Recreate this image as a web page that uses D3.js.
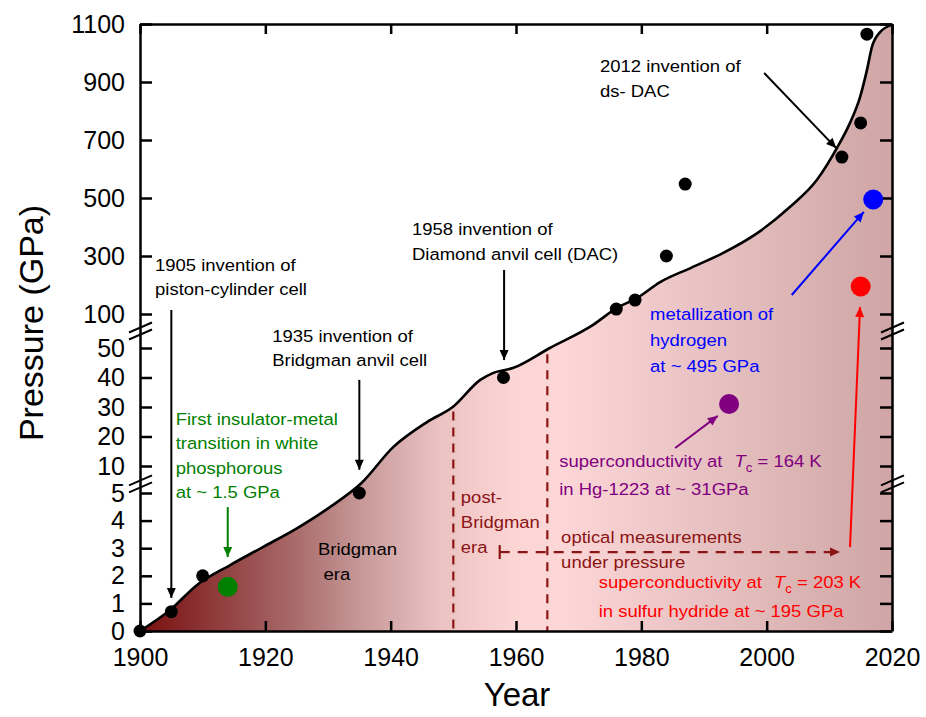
<!DOCTYPE html>
<html>
<head>
<meta charset="utf-8">
<script src="https://cdn.jsdelivr.net/npm/d3@7"></script>
<style>
  body { margin: 0; background: #fff; }
  text { font-family: "Liberation Sans", Arial, sans-serif; }
</style>
</head>
<body>
<svg width="926" height="717"></svg>
<script>
// axis values
var xTicks = [1900, 1920, 1940, 1960, 1980, 2000, 2020];
var yTicks = [0, 1, 2, 3, 4, 5, 10, 20, 30, 40, 50, 100, 300, 500, 700, 900, 1100];
var yBreaks = [0, 5, 10, 50, 100, 1100];   // broken axis: segment edges (GPa)
var breakAt = [6.7, 75];                   // where the "//" marks sit

// envelope of the highest static pressure reached
var curveYears = [1900, 1904.8, 1909.1, 1914.4, 1919.6, 1925.1, 1930.3, 1935.3, 1940.4, 1945.8,
                  1949.9, 1954.3, 1956.3, 1959.5, 1965.4, 1972.3, 1976.1, 1979.3, 1983, 1988,
                  1993, 1998.5, 2003.7, 2008, 2011.2, 2013.3, 2014.9, 2016, 2016.8, 2018.1, 2020];
var curvePressure = [0, 0.76, 1.67, 2.39, 3.04, 3.73, 4.49, 6.8, 16.4, 24.9,
                     30, 39.2, 41.5, 43.2, 50, 84, 121, 155, 210, 260,
                     310, 379, 469, 562, 672, 759, 848, 941, 1021, 1072, 1097];

// milestone points
var dotYears = [1900, 1905, 1910, 1935, 1958, 1976, 1979, 1984, 1987, 2012, 2015, 2016];
var dotPressure = [0, 0.7, 2, 5, 40, 117, 148, 300, 548, 641, 759, 1065];

// highlighted discoveries
var markNames = ["white phosphorous", "Hg-1223", "hydrogen", "sulfur hydride"];
var markYears = [1914, 1994, 2017, 2015];
var markPressure = [1.6, 31, 495, 195];

// era boundaries
var eraYears = [1950, 1965];

var tones = {
  black: "#000", green: "#008000", purple: "#800080",
  blue: "#0000ff", red: "#ff0000", maroon: "#8b1414"
};
var markTones = ["green", "purple", "blue", "red"];

var svg = d3.select("svg");

var x = d3.scaleLinear().domain([1900, 2020]).range([140, 892]);
var y = d3.scaleLinear().domain(yBreaks).range([631, 493, 466, 348, 314, 24]);

var defs = svg.append("defs");
var grad = defs.append("linearGradient")
  .attr("id", "eraFill")
  .attr("gradientUnits", "userSpaceOnUse")
  .attr("x1", x(1900)).attr("x2", x(2020))
  .attr("y1", 0).attr("y2", 0);
[[0, "#7a1010"], [0.06, "#86292a"], [0.2, "#a76868"], [0.3, "#c99b9b"],
 [0.4, "#ecc3c3"], [0.5, "#fcd5d5"], [0.56, "#fdd7d7"], [0.75, "#e8c2c2"], [1, "#cfa5a5"]]
  .forEach(s => grad.append("stop").attr("offset", s[0]).attr("stop-color", s[1]));

Object.keys(tones).forEach(k => {
  defs.append("marker")
    .attr("id", "head-" + k)
    .attr("viewBox", "0 -5 10 10")
    .attr("refX", 10).attr("refY", 0)
    .attr("markerUnits", "userSpaceOnUse")
    .attr("markerWidth", 17).attr("markerHeight", 10)
    .attr("orient", "auto")
    .append("path")
      .attr("d", "M0,-4.5L10,0L0,4.5Z")
      .attr("fill", tones[k]);
});

var pts = curveYears.map((yr, i) => [yr, curvePressure[i]]);

// shaded area under the envelope
svg.append("path")
  .datum(pts)
  .attr("fill", "url(#eraFill)")
  .attr("d", d3.area()
    .x(d => x(d[0]))
    .y0(y(0))
    .y1(d => y(d[1]))
    .curve(d3.curveMonotoneX));

// dashed era boundaries
var curveAt = d3.scaleLinear().domain(curveYears).range(curvePressure.map(p => y(p)));
svg.append("g")
  .selectAll("line")
  .data(eraYears)
  .enter()
  .append("line")
    .attr("x1", d => x(d)).attr("x2", d => x(d))
    .attr("y1", d => curveAt(d) + 5)
    .attr("y2", y(0))
    .attr("stroke", tones.maroon)
    .attr("stroke-width", 2.2)
    .attr("stroke-dasharray", "9,7");

svg.append("path")
  .datum(pts)
  .attr("fill", "none")
  .attr("stroke", "#000")
  .attr("stroke-width", 2.6)
  .attr("d", d3.line()
    .x(d => x(d[0]))
    .y(d => y(d[1]))
    .curve(d3.curveMonotoneX));

// frame and axes
function styleAxis(g, size) {
  g.selectAll("path, line").attr("stroke", "#000").attr("stroke-width", 2.5);
  g.selectAll("text").style("font-size", size).attr("fill", "#000");
}

svg.append("g")
  .attr("transform", "translate(0," + y(0) + ")")
  .call(d3.axisBottom(x).tickValues(xTicks).tickFormat(d3.format("d"))
    .tickSize(-10).tickSizeOuter(0).tickPadding(17))
  .call(g => styleAxis(g, "25px"));

svg.append("g")
  .attr("transform", "translate(0," + y(1100) + ")")
  .call(d3.axisTop(x).tickValues(xTicks).tickFormat("").tickSize(-10).tickSizeOuter(0))
  .call(g => styleAxis(g, "25px"));

svg.append("g")
  .attr("transform", "translate(" + x(1900) + ",0)")
  .call(d3.axisLeft(y).tickValues(yTicks).tickFormat(d3.format("d"))
    .tickSize(-12).tickSizeOuter(0).tickPadding(15))
  .call(g => styleAxis(g, "25px"));

svg.append("g")
  .attr("transform", "translate(" + x(2020) + ",0)")
  .call(d3.axisRight(y).tickValues(yTicks).tickFormat("").tickSize(-12).tickSizeOuter(0))
  .call(g => styleAxis(g, "25px"));

// axis break marks
[x(1900), x(2020)].forEach(cx => {
  breakAt.forEach(v => {
    var cy = y(v);
    [-3.5, 3.5].forEach(d => {
      svg.append("line")
        .attr("x1", cx - 11).attr("y1", cy + d + 5)
        .attr("x2", cx + 12).attr("y2", cy + d - 5)
        .attr("stroke", "#000").attr("stroke-width", 2);
    });
  });
});

svg.append("text")
  .attr("x", 517).attr("y", 706)
  .attr("text-anchor", "middle")
  .style("font-size", "33px")
  .text("Year");

svg.append("text")
  .attr("transform", "translate(43,323) rotate(-90)")
  .attr("text-anchor", "middle")
  .style("font-size", "34px")
  .text("Pressure (GPa)");

// era boundary arrow (optical measurements)
var optical = { from: [1957.4, 2.86], to: [2011.7, 2.86] };
svg.append("line")
  .attr("x1", x(optical.from[0])).attr("x2", x(optical.from[0]))
  .attr("y1", y(optical.from[1]) - 7).attr("y2", y(optical.from[1]) + 7)
  .attr("stroke", tones.maroon).attr("stroke-width", 2.2);
svg.append("line")
  .attr("x1", x(optical.from[0])).attr("y1", y(optical.from[1]))
  .attr("x2", x(optical.to[0])).attr("y2", y(optical.to[1]))
  .attr("stroke", tones.maroon).attr("stroke-width", 2.2)
  .attr("stroke-dasharray", "10,8")
  .attr("marker-end", "url(#head-maroon)");

// annotation arrows
var arrows = [
  { from: [1905, 114], to: [1905, 1.2], tone: "black" },
  { from: [1935, 39.2], to: [1935, 9.3], tone: "black" },
  { from: [1958.1, 252], to: [1958.1, 45.9], tone: "black" },
  { from: [1999.6, 931], to: [2011.1, 672], tone: "black" },
  { from: [1914, 4.49], to: [1914, 2.68], tone: "green" },
  { from: [1985.4, 16.1], to: [1992.2, 27], tone: "purple" },
  { from: [2004, 165.5], to: [2015.5, 452], tone: "blue" },
  { from: [2013.3, 3.04], to: [2014.9, 124], tone: "red" }
];
svg.append("g")
  .selectAll("line")
  .data(arrows)
  .enter()
  .append("line")
    .attr("x1", d => x(d.from[0])).attr("y1", d => y(d.from[1]))
    .attr("x2", d => x(d.to[0])).attr("y2", d => y(d.to[1]))
    .attr("stroke", d => tones[d.tone])
    .attr("stroke-width", 2)
    .attr("marker-end", d => "url(#head-" + d.tone + ")");

// points
svg.append("g")
  .selectAll("circle")
  .data(dotYears)
  .enter()
  .append("circle")
    .attr("cx", d => x(d))
    .attr("cy", (d, i) => y(dotPressure[i]))
    .attr("r", 6.5)
    .attr("fill", "#000");

svg.append("g")
  .selectAll("circle")
  .data(markNames)
  .enter()
  .append("circle")
    .attr("cx", (d, i) => x(markYears[i]))
    .attr("cy", (d, i) => y(markPressure[i]))
    .attr("r", 10)
    .attr("fill", (d, i) => tones[markTones[i]]);

// text notes: anchor at (year, GPa) of the first baseline
var notes = [
  { at: [1902.4, 248], gap: 24, tone: "black", lines: ["1905 invention of", "piston-cylinder cell"] },
  { at: [1921.1, 58.8], gap: 24, tone: "black", lines: ["1935 invention of", "Bridgman anvil cell"] },
  { at: [1928.4, 2.75], gap: 25, tone: "black", lines: ["Bridgman", "era"], indent: [0, 5] },
  { at: [1943.4, 372], gap: 25, tone: "black", lines: ["1958 invention of", "Diamond anvil cell (DAC)"] },
  { at: [1973.4, 934], gap: 25, tone: "black", lines: ["2012 invention of", "ds- DAC"] },
  { at: [1905.7, 23.9], gap: 24.5, tone: "green",
    lines: ["First insulator-metal", "transition in white", "phosphorous", "at ~ 1.5 GPa"] },
  { at: [1966.9, 9.8], gap: 28, tone: "purple", lines: [["superconductivity at", "164 K"], "in Hg-1223 at ~ 31GPa"] },
  { at: [1981.4, 91.2], gap: 26, tone: "blue", lines: ["metallization of", "hydrogen", "at ~ 495 GPa"] },
  { at: [1973.2, 1.56], gap: 29, tone: "red", lines: [["superconductivity at", "203 K"], "in sulfur hydride at ~ 195 GPa"] },
  { at: [1951.2, 4.64], gap: 25, tone: "maroon", lines: ["post-", "Bridgman", "era"] },
  { at: [1967.2, 3.19], gap: 25, tone: "maroon", lines: ["optical measurements", "under pressure"] }
];

notes.forEach(n => {
  var t = svg.append("text")
    .attr("transform", "translate(" + x(n.at[0]) + "," + y(n.at[1]) + ") scale(1.1,1)")
    .attr("fill", tones[n.tone])
    .style("font-size", "16.8px");
  n.lines.forEach((ln, i) => {
    var indent = n.indent ? n.indent[i] : 0;
    if (typeof ln === "string") {
      t.append("tspan").attr("x", indent).attr("dy", i ? n.gap : 0).text(ln);
    } else {
      t.append("tspan").attr("x", indent).attr("dy", i ? n.gap : 0).text(ln[0]);
      t.append("tspan").attr("dx", 11).style("font-style", "italic").text("T");
      t.append("tspan").attr("dy", 5).style("font-size", "12px").text("c");
      t.append("tspan").attr("dy", -5).text(" = " + ln[1]);
    }
  });
});
</script>
</body>
</html>
